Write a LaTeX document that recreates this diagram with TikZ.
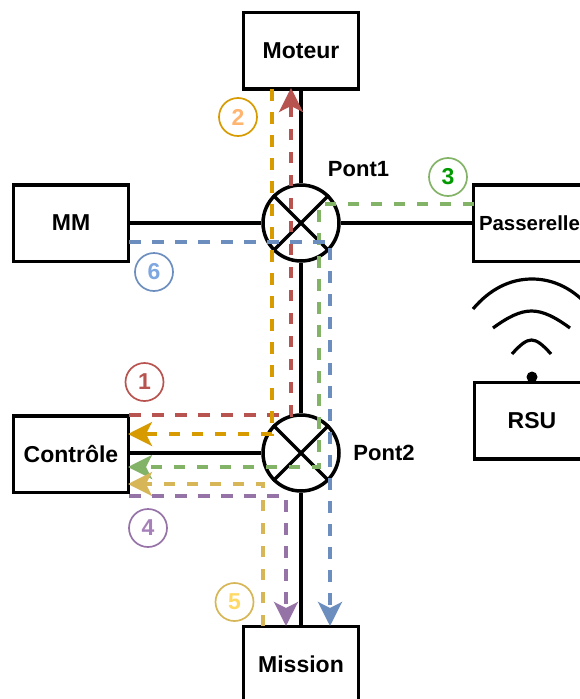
\documentclass[tikz,border=0pt]{standalone}
\usepackage{fontspec}
\setmainfont{Liberation Sans}
\usetikzlibrary{arrows.meta}
\definecolor{cred}{HTML}{B85450}
\definecolor{corange}{HTML}{D79B00}
\definecolor{cgreen}{HTML}{82B366}
\definecolor{cyellow}{HTML}{D6B656}
\definecolor{cpurple}{HTML}{9673A6}
\definecolor{cblue}{HTML}{6C8EBF}
\tikzset{
  boxnode/.style={draw=black,line width=3.5pt,fill=white,minimum width=115pt,minimum height=76.5pt,inner sep=0pt,font=\fontsize{23}{26}\selectfont\bfseries},
  pont/.style={draw=black,line width=3.5pt,fill=white,circle,minimum size=76pt,inner sep=0pt},
  wire/.style={draw=black,line width=3.5pt},
  xline/.style={draw=black,line width=3.2pt},
  flow/.style={line width=3.5pt,dash pattern=on 11.5pt off 11.5pt},
  flowarrow/.style={flow,-{Stealth[length=24pt,width=24pt,inset=6pt]}},
  num/.style={draw,line width=1.7pt,circle,minimum size=38pt,inner sep=0pt,font=\fontsize{23}{26}\selectfont\bfseries},
  lbl/.style={font=\fontsize{22}{26}\selectfont\bfseries,inner sep=0pt},
}
\begin{document}
\begin{tikzpicture}[x=1pt,y=-1pt]
\useasboundingbox (0,0) rectangle (580,699);
\node[boxnode] (moteur) at (301,50.5) {Moteur};
\node[boxnode] (mm) at (71,223) {MM};
\node[boxnode,minimum width=112pt] (pass) at (529.5,223) {\fontsize{20.4}{24}\selectfont Passerelle};
\node[boxnode] (ctl) at (71,454) {\fontsize{23}{26}\selectfont Contrôle};
\node[boxnode] (mission) at (301,664.5) {Mission};
\node[boxnode] (rsu) at (532,420.5) {RSU};
\node[pont] (p1) at (301,223) {};
\node[pont] (p2) at (301,453) {};
\draw[wire] (moteur) -- (p1);
\draw[wire] (p1) -- (p2);
\draw[wire] (p2) -- (mission);
\draw[wire] (mm) -- (p1);
\draw[wire] (p1) -- (pass);
\draw[wire] (ctl.east |- p2) -- (p2);
\foreach \p in {p1,p2}{
  \draw[xline] (\p.45) -- (\p.225);
  \draw[xline] (\p.135) -- (\p.315);
}
\node[lbl] (l1) at (358.5,169) {Pont1};
\node[lbl] (l2) at (384,453) {Pont2};
% RSU antenna
\coordinate (dot) at (532,377);
\fill (dot) circle (5.5pt);
\coordinate (a1) at (512,354); \coordinate (a2) at (551,354);
\coordinate (b1) at (493,328); \coordinate (b2) at (570,328);
\coordinate (c1) at (473,309); \coordinate (c2) at (591,309);
\draw[line width=3.2pt] (a1) .. controls (520,345) and (526,340) .. (531.5,340) .. controls (537,340) and (543,345) .. (a2);
\draw[line width=3.2pt] (b1) .. controls (508,317) and (520,311) .. (531.5,311) .. controls (543,311) and (555,317) .. (b2);
\draw[line width=3.2pt] (c1) .. controls (490,289) and (510,279) .. (532,279) .. controls (554,279) and (574,289) .. (c2);
% flows
\coordinate (r1) at (291,415);
\coordinate (r2) at (129,415);
\coordinate (r3) at (291,88);
\draw[flowarrow,cred] (r2) -- (r1) -- (r3);
\coordinate (o0) at (272,89);
\coordinate (o1) at (272,434);
\coordinate (o2) at (128,434);
\draw[flowarrow,corange] (o0) -- (o1) -- (o2);
\coordinate (g0) at (474,204);
\coordinate (g1) at (319,204);
\coordinate (g2) at (319,467);
\coordinate (g3) at (128,467);
\draw[flowarrow,cgreen] (g0) -- (g1) -- (g2) -- (g3);
\coordinate (y0) at (263,626);
\coordinate (y1) at (263,484);
\coordinate (y2) at (128,484);
\draw[flowarrow,cyellow] (y0) -- (y1) -- (y2);
\coordinate (u0) at (129,496);
\coordinate (u1) at (286,496);
\coordinate (u2) at (286,626);
\draw[flowarrow,cpurple] (u0) -- (u1) -- (u2);
\coordinate (b0) at (129,242);
\coordinate (b3) at (330,242);
\coordinate (b4) at (330,626);
\draw[flowarrow,cblue] (b0) -- (b3) -- (b4);
% numbers
\node[num,draw=cred,text=cred] (n1) at (144.5,382) {1};
\node[num,draw=corange,text={rgb,255:red,255;green,181;blue,112}] (n2) at (238,117) {2};
\node[num,draw=cgreen,text={rgb,255:red,0;green,153;blue,0}] (n3) at (448,177) {3};
\node[num,draw=cpurple,text={rgb,255:red,166;green,128;blue,184}] (n4) at (148,528) {4};
\node[num,draw=cyellow,text={rgb,255:red,255;green,217;blue,102}] (n5) at (234.5,602) {5};
\node[num,draw=cblue,text={rgb,255:red,126;green,166;blue,224}] (n6) at (154,272) {6};
\end{tikzpicture}
\end{document}
